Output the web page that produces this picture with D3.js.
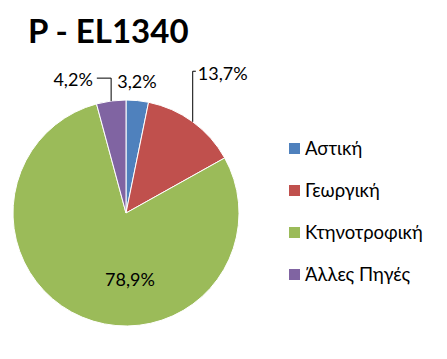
<!DOCTYPE html>
<html lang="el">
<head>
  <meta charset="UTF-8">
  <title>P - EL1340</title>
  <style>
body { margin: 0; background: #fff; }
svg { display: block; font-family: Lato, "Open Sans", sans-serif; }
  </style>
</head>
<body>
  <div id="chart"></div>
  <script src="https://d3js.org/d3.v7.min.js"></script>
  <script>
// data
const categories = ["Αστική", "Γεωργική", "Κτηνοτροφική", "Άλλες Πηγές"];
const values = [3.2, 13.7, 78.9, 4.2];
const labels = ["3,2%", "13,7%", "78,9%", "4,2%"];
const colors = ["#4F81BD", "#C0504D", "#9BBB59", "#8064A2"];

const width = 447, height = 359;
const cx = 126, cy = 213, radius = 113;

// where excel put the labels (polar: degrees from top, distance from centre)
const labelPlace = [
  { a: 4.8, r: 132 },
  { a: 34.7, r: 170 },
  { a: 176.6, r: 67 },
  { a: -21.7, r: 143 }
];

const svg = d3.select("#chart").append("svg")
  .attr("width", width)
  .attr("height", height);

svg.append("text")
  .attr("x", 28)
  .attr("y", 43)
  .attr("font-size", 33)
  .attr("font-weight", "bold")
  .attr("fill", "#000")
  .text("P - EL1340");

const pie = d3.pie().sort(null).value(d => d);
const arcs = pie(values);
const arc = d3.arc().innerRadius(0).outerRadius(radius);

const g = svg.append("g").attr("transform", `translate(${cx},${cy})`);

g.selectAll("path")
  .data(arcs)
  .join("path")
  .attr("d", arc)
  .attr("fill", (d, i) => colors[i])
  .attr("stroke", "#fff")
  .attr("stroke-width", 1);

function polar(a, r) {
  const t = a * Math.PI / 180;
  return [r * Math.sin(t), -r * Math.cos(t)];
}

const lab = g.selectAll("text.lab")
  .data(arcs)
  .join("text")
  .attr("class", "lab")
  .attr("text-anchor", "middle")
  .attr("dy", "0.35em")
  .attr("font-size", 18)
  .attr("fill", "#000")
  .attr("transform", (d, i) => `translate(${polar(labelPlace[i].a, labelPlace[i].r)})`)
  .text((d, i) => labels[i]);

// leader lines for the labels that sit away from their slice
const leaders = [1, 3];
leaders.forEach(i => {
  const d = arcs[i];
  const mid = (d.startAngle + d.endAngle) / 2;
  const edge = [radius * Math.sin(mid), -radius * Math.cos(mid)];
  const box = lab.filter((e, j) => j === i).node().getBBox();
  const p = polar(labelPlace[i].a, labelPlace[i].r);
  const ly = p[1] - 2;
  let lx;
  if (edge[0] > p[0]) lx = p[0] + box.width / 2 + 4;
  else lx = p[0] - box.width / 2 - 2;
  svg.append("path")
    .attr("transform", `translate(${cx},${cy})`)
    .attr("d", `M${lx},${ly}H${edge[0]}V${edge[1]}`)
    .attr("fill", "none")
    .attr("stroke", "#000")
    .attr("stroke-width", 1);
});

// legend
const legend = svg.append("g")
  .selectAll("g")
  .data(categories)
  .join("g")
  .attr("transform", (d, i) => `translate(289,${149 + i * 42})`);

legend.append("rect")
  .attr("x", 0)
  .attr("y", -6)
  .attr("width", 11)
  .attr("height", 11)
  .attr("fill", (d, i) => colors[i]);

legend.append("text")
  .attr("x", 16)
  .attr("dy", "0.35em")
  .attr("font-size", 18.5)
  .attr("fill", "#000")
  .text(d => d);
  </script>
</body>
</html>
